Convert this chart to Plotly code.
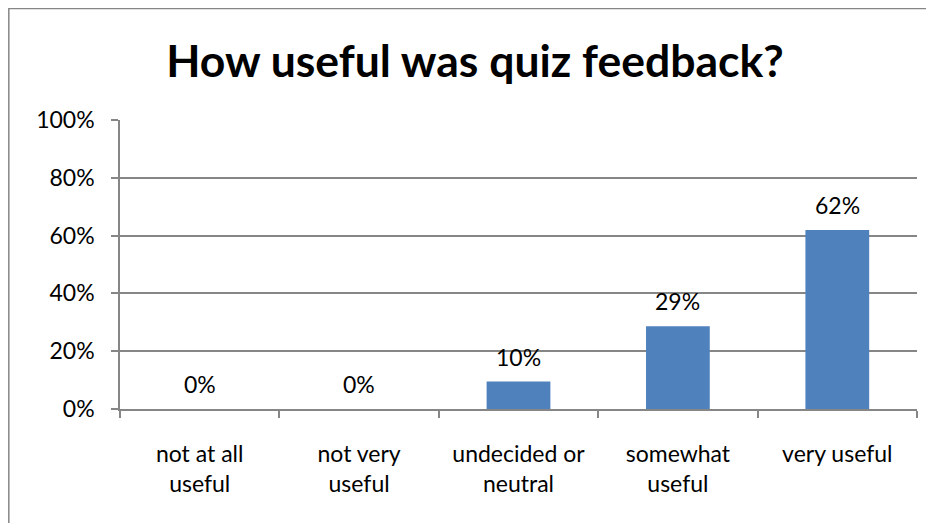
import plotly.graph_objects as go

categories = ["not at all<br>useful", "not very<br>useful", "undecided or<br>neutral", "somewhat<br>useful", "very useful"]
values = [0.0, 0.0, 0.095, 0.286, 0.619]
tick_vals = [0, 0.2, 0.4, 0.6, 0.8, 1.0]
tick_text = ["0%", "20%", "40%", "60%", "80%", "100%"]

FONT = "Lato, Calibri, sans-serif"
GRID = "#868686"

fig = go.Figure(go.Bar(
    x=categories, y=values,
    marker=dict(color="#4F81BD", line=dict(width=0)),
    cliponaxis=False,
))

for c, v in zip(categories, values):
    fig.add_annotation(x=c, y=v, text=f"{v:.0%}", showarrow=False,
                       yanchor="bottom", yshift=9,
                       font=dict(family=FONT, size=23, color="black"))

fig.update_layout(
    width=934, height=523,
    paper_bgcolor="white", plot_bgcolor="white",
    margin=dict(l=112, r=25, t=112, b=122),
    bargap=0.6,
    showlegend=False,
    title=dict(text="<b>How useful was quiz feedback?</b>", x=0.5, xanchor="center",
               y=0.897, yanchor="middle",
               font=dict(family=FONT, size=44.5, color="black")),
    xaxis=dict(
        showline=True, linecolor=GRID, linewidth=1.5,
        ticks="outside", ticklen=7, tickcolor=GRID, tickwidth=1.5,
        tickson="boundaries", showgrid=False,
        ticklabelstandoff=24,
        tickfont=dict(family=FONT, size=23, color="black"),
    ),
    yaxis=dict(
        range=[0, 1], tickvals=tick_vals, ticktext=tick_text,
        showline=True, linecolor=GRID, linewidth=1.5,
        ticks="outside", ticklen=7, tickcolor=GRID, tickwidth=1.5,
        showgrid=True, gridcolor=GRID, gridwidth=1.5,
        zeroline=False,
        ticklabelstandoff=12,
        tickfont=dict(family=FONT, size=23, color="black"),
    ),
    shapes=[dict(type="rect", xref="paper", yref="paper",
                 x0=-0.1395, x1=1.2, y0=-0.5, y1=1.386,
                 line=dict(color=GRID, width=1.5), fillcolor="rgba(0,0,0,0)", layer="below")],
)

fig.write_html("out.html")
